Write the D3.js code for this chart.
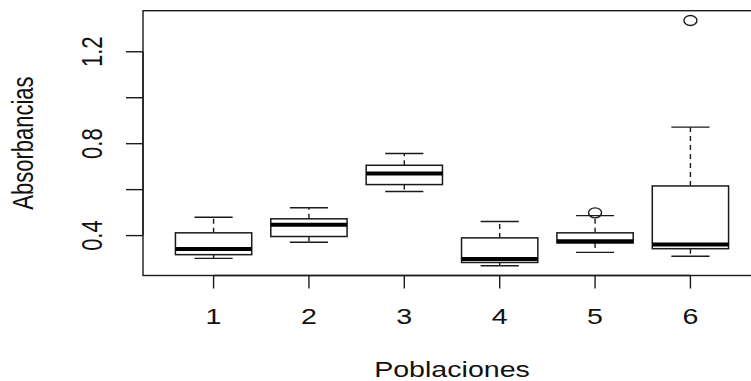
<!DOCTYPE html>
<html>
<head>
<meta charset="utf-8">
<script src="https://cdn.jsdelivr.net/npm/d3@7"></script>
<style>
  html, body { margin: 0; padding: 0; background: white; overflow: hidden; }
  text { font-family: "Liberation Sans", Arial, sans-serif; fill: #111; }
</style>
</head>
<body>
<script>
// boxplot stats
const poblaciones = ["1", "2", "3", "4", "5", "6"];
const bigoteInf = [0.301, 0.371, 0.592, 0.269, 0.327, 0.310];
const q1 = [0.317, 0.396, 0.622, 0.283, 0.368, 0.343];
const mediana = [0.342, 0.447, 0.670, 0.298, 0.375, 0.361];
const q3 = [0.412, 0.473, 0.706, 0.390, 0.412, 0.616];
const bigoteSup = [0.480, 0.521, 0.757, 0.461, 0.487, 0.872];
const atipicos = [[], [], [], [], [0.499], [1.336]];
const yTicks = [0.4, 0.6, 0.8, 1.0, 1.2];
const yTickLabels = ["0.4", "", "0.8", "", "1.2"];

const width = 751;
const height = 381;
const plotLeft = 143, plotRight = 761, plotTop = 10.7, plotBottom = 275.5;
const sx = 1.3; // the picture is stretched sideways
const ink = "#1a1a1a";

const svg = d3.select("body")
  .append("svg")
  .attr("xmlns", "http://www.w3.org/2000/svg")
  .attr("width", width)
  .attr("height", height);

svg.append("rect").attr("width", "100%").attr("height", "100%").attr("fill", "white");

const boxes = poblaciones.map((p, i) => ({
  pos: i + 1,
  label: p,
  lo: bigoteInf[i], q1: q1[i], med: mediana[i], q3: q3[i], hi: bigoteSup[i],
  out: atipicos[i]
}));

// R style: xlim 0.5..n+0.5, plus 4% each side
const n = poblaciones.length;
const xPad = n * 0.04;
const x = d3.scaleLinear()
  .domain([0.5 - xPad, n + 0.5 + xPad])
  .range([plotLeft, plotRight]);

const allVals = bigoteInf.concat(bigoteSup, atipicos.flat());
const [vMin, vMax] = d3.extent(allVals);
const yPad = (vMax - vMin) * 0.04;
const y = d3.scaleLinear()
  .domain([vMin - yPad, vMax + yPad])
  .range([plotBottom, plotTop]);

const boxHalf = 0.4, capHalf = 0.2;

const g = svg.append("g");

boxes.forEach(b => {
  const bx = g.append("g");
  // whiskers
  bx.append("line")
    .attr("x1", x(b.pos)).attr("x2", x(b.pos))
    .attr("y1", y(b.q3)).attr("y2", y(b.hi))
    .attr("stroke", ink).attr("stroke-width", 1.4).attr("stroke-dasharray", "5,4");
  bx.append("line")
    .attr("x1", x(b.pos)).attr("x2", x(b.pos))
    .attr("y1", y(b.q1)).attr("y2", y(b.lo))
    .attr("stroke", ink).attr("stroke-width", 1.4).attr("stroke-dasharray", "5,4");
  // caps
  [b.hi, b.lo].forEach(v => {
    bx.append("line")
      .attr("x1", x(b.pos - capHalf)).attr("x2", x(b.pos + capHalf))
      .attr("y1", y(v)).attr("y2", y(v))
      .attr("stroke", ink).attr("stroke-width", 1.4);
  });
  // box
  bx.append("rect")
    .attr("x", x(b.pos - boxHalf))
    .attr("y", y(b.q3))
    .attr("width", x(b.pos + boxHalf) - x(b.pos - boxHalf))
    .attr("height", y(b.q1) - y(b.q3))
    .attr("fill", "white")
    .attr("stroke", ink).attr("stroke-width", 1.5);
  // median
  bx.append("line")
    .attr("x1", x(b.pos - boxHalf)).attr("x2", x(b.pos + boxHalf))
    .attr("y1", y(b.med)).attr("y2", y(b.med))
    .attr("stroke", "black").attr("stroke-width", 4);
  // outliers
  b.out.forEach(v => {
    bx.append("ellipse")
      .attr("cx", x(b.pos)).attr("cy", y(v))
      .attr("rx", 6.5).attr("ry", 5)
      .attr("fill", "none")
      .attr("stroke", ink).attr("stroke-width", 1.4);
  });
});

// plot frame (right edge is off the picture)
svg.append("rect")
  .attr("x", plotLeft).attr("y", plotTop)
  .attr("width", plotRight - plotLeft).attr("height", plotBottom - plotTop)
  .attr("fill", "none").attr("stroke", ink).attr("stroke-width", 1.4);

// y axis
const yAxis = svg.append("g");
yAxis.append("line")
  .attr("x1", plotLeft).attr("x2", plotLeft)
  .attr("y1", y(yTicks[0])).attr("y2", y(yTicks[yTicks.length - 1]))
  .attr("stroke", ink).attr("stroke-width", 1.4);
yTicks.forEach((t, i) => {
  yAxis.append("line")
    .attr("x1", plotLeft - 17).attr("x2", plotLeft)
    .attr("y1", y(t)).attr("y2", y(t))
    .attr("stroke", ink).attr("stroke-width", 1.4);
  if (yTickLabels[i]) {
    yAxis.append("text")
      .attr("transform", `translate(101.5,${y(t)}) scale(${sx},1) rotate(-90)`)
      .attr("text-anchor", "middle")
      .attr("font-size", 22)
      .text(yTickLabels[i]);
  }
});

// x axis
const xAxis = svg.append("g");
xAxis.append("line")
  .attr("x1", x(1)).attr("x2", x(n))
  .attr("y1", plotBottom).attr("y2", plotBottom)
  .attr("stroke", ink).attr("stroke-width", 1.4);
boxes.forEach(b => {
  xAxis.append("line")
    .attr("x1", x(b.pos)).attr("x2", x(b.pos))
    .attr("y1", plotBottom).attr("y2", plotBottom + 13)
    .attr("stroke", ink).attr("stroke-width", 1.4);
  xAxis.append("text")
    .attr("transform", `translate(${x(b.pos)},324) scale(${sx},1)`)
    .attr("text-anchor", "middle")
    .attr("font-size", 22)
    .text(b.label);
});

// axis titles
svg.append("text")
  .attr("transform", `translate(${(plotLeft + plotRight) / 2},377) scale(${sx},1)`)
  .attr("text-anchor", "middle")
  .attr("font-size", 22)
  .text("Poblaciones");

svg.append("text")
  .attr("transform", `translate(33,${(plotTop + plotBottom) / 2}) scale(${sx},1) rotate(-90)`)
  .attr("text-anchor", "middle")
  .attr("font-size", 22)
  .text("Absorbancias");
</script>
</body>
</html>
